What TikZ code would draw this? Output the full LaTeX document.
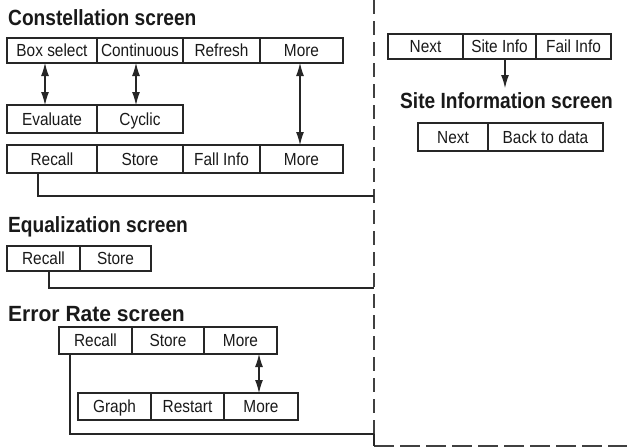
\documentclass[tikz,border=0pt]{standalone}
\usepackage{fontspec}
\usetikzlibrary{arrows.meta}
\newfontfamily\cnd[FakeStretch=0.88]{Liberation Sans}
\newfontfamily\cndb[FakeStretch=0.87]{Liberation Sans Bold}
\tikzset{
  cell/.style={draw=black!85, line width=1.1pt, inner sep=0pt, outer sep=0pt,
    anchor=north west, font=\cnd\fontsize{17.5}{17.5}\selectfont, text=black!90,
    text height=14.6pt, text depth=2pt},
  ttl/.style={anchor=base west, inner sep=0pt, font=\cndb\fontsize{22}{22}\selectfont, text=black!90},
  conn/.style={draw=black!85, line width=1.1pt},
  dbl/.style={conn, {Latex[length=13pt,width=8pt]}-{Latex[length=13pt,width=8pt]}},
  sgl/.style={conn, -{Latex[length=13pt,width=8pt]}},
  dsh/.style={draw=black!75, line width=1.1pt, dash pattern=on 14pt off 7pt}
}
\begin{document}
\begin{tikzpicture}[x=1pt,y=-1pt]
\useasboundingbox (0,0) rectangle (627,447);
% Constellation screen
\node[ttl] (tc) at (8,25) {Constellation screen};
\node[cell, minimum width=90, minimum height=25] (bs) at (7,38) {Box select};
\node[cell, minimum width=86, minimum height=25] (co) at (97,38) {Continuous};
\node[cell, minimum width=77, minimum height=25] (rf) at (183,38) {Refresh};
\node[cell, minimum width=83, minimum height=25] (m1) at (260,38) {More};
\node[cell, minimum width=90, minimum height=28] (ev) at (7,105) {Evaluate};
\node[cell, minimum width=86, minimum height=28] (cy) at (97,105) {Cyclic};
\node[cell, minimum width=90, minimum height=28] (rc1) at (7,145) {Recall};
\node[cell, minimum width=86, minimum height=28] (st1) at (97,145) {Store};
\node[cell, minimum width=77, minimum height=28] (fi1) at (183,145) {Fall Info};
\node[cell, minimum width=83, minimum height=28] (m2) at (260,145) {More};
\draw[dbl] ([xshift=-7pt]bs.south) -- ([xshift=-7pt]ev.north);
\draw[dbl] ([xshift=-4pt]co.south) -- ([xshift=-4pt]cy.north);
\draw[dbl] ([xshift=-1.5pt]m1.south) -- ([xshift=-1.5pt]m2.north);
% dashed boundary
\coordinate (dtop) at (374,0);
\coordinate (d1) at (374,196);
\coordinate (d2) at (374,288);
\coordinate (d3) at (374,434);
\coordinate (dc) at (374,446);
\coordinate (dend) at (627,446);
\draw[dsh] (dtop) -- (d3);
\draw[draw=black!75, line width=1.1pt, dash pattern=on 20pt off 6pt] (dc) -- (dend);
\draw[conn] (d3) -- (dc);
\draw[conn] ([xshift=-14pt]rc1.south) |- (d1);
% Equalization screen
\node[ttl] (te) at (8,232) {Equalization screen};
\node[cell, minimum width=73, minimum height=25] (rc2) at (7,246) {Recall};
\node[cell, minimum width=71, minimum height=25] (st2) at (80,246) {Store};
\draw[conn] ([xshift=5.5pt]rc2.south) |- (d2);
% Error Rate screen
\node[ttl] (tr) at (8,321) {\scalebox{1.1}[1]{Error Rate screen}};
\node[cell, minimum width=73, minimum height=27] (rc3) at (59,327) {Recall};
\node[cell, minimum width=72, minimum height=27] (st3) at (132,327) {Store};
\node[cell, minimum width=73, minimum height=27] (m3) at (204,327) {More};
\node[cell, minimum width=73, minimum height=27] (gr) at (78,393) {Graph};
\node[cell, minimum width=73, minimum height=27] (rs) at (151,393) {Restart};
\node[cell, minimum width=74, minimum height=27] (m4) at (224,393) {More};
\draw[dbl] ([xshift=18.5pt]m3.south) -- ([xshift=-2pt]m4.north);
\draw[conn] ([xshift=-25.5pt]rc3.south) |- (d3);
% Site information
\node[cell, minimum width=75, minimum height=25] (nx1) at (388,34) {Next};
\node[cell, minimum width=73, minimum height=25] (si) at (463,34) {Site Info};
\node[cell, minimum width=75, minimum height=25] (fi2) at (536,34) {Fail Info};
\node[ttl] (ts) at (400,108) {Site Information screen};
\node[cell, minimum width=70, minimum height=28] (nx2) at (418,123) {Next};
\node[cell, minimum width=115, minimum height=28] (bd) at (488,123) {Back to data};
\draw[sgl] ([xshift=5.5pt]si.south) -- ([xshift=5.5pt]si.south |- 0,88);
\end{tikzpicture}
\end{document}
